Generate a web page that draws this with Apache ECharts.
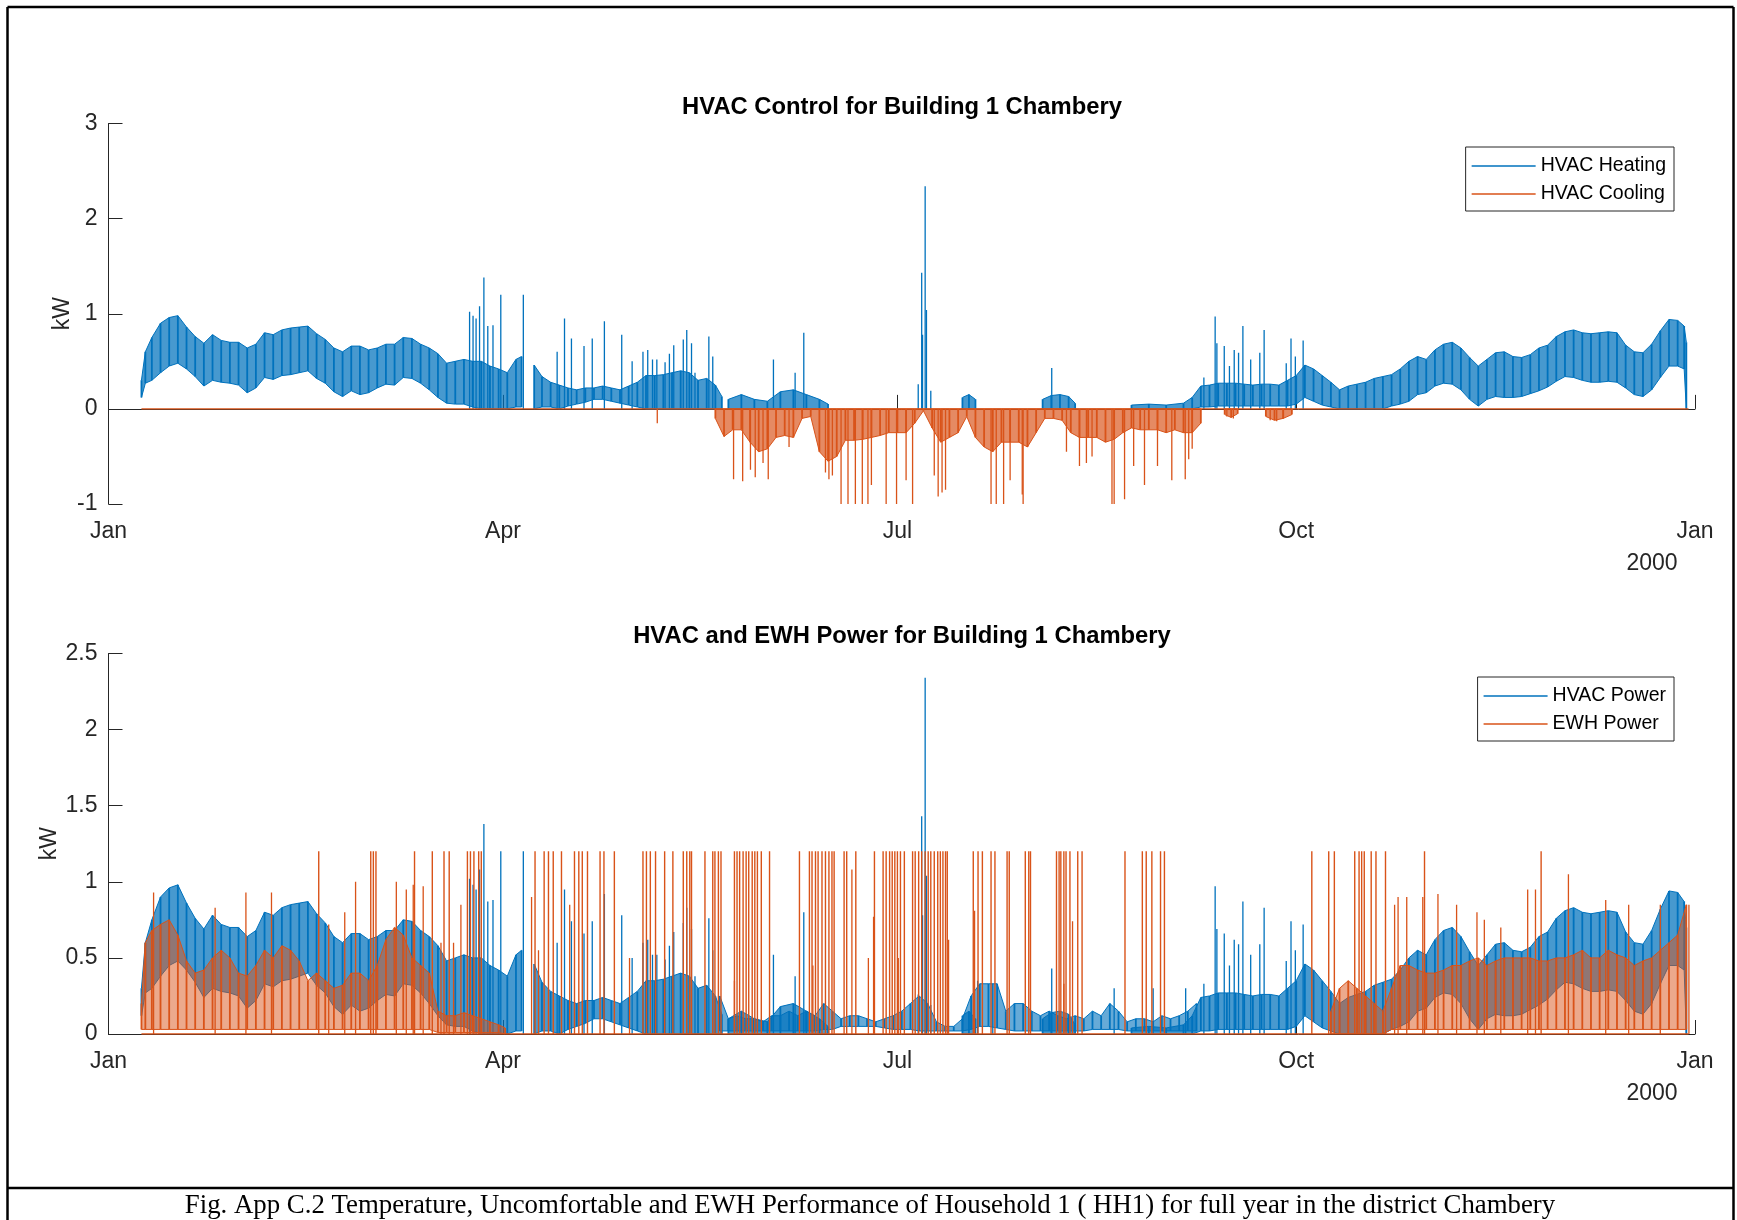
<!DOCTYPE html>
<html>
<head>
<meta charset="utf-8">
<title>HVAC Control for Building 1 Chambery</title>
<script src="https://cdn.jsdelivr.net/npm/echarts@6/dist/echarts.min.js"></script>
<style>
  html, body { margin: 0; padding: 0; background: #fff; }
  #chart { width: 1737px; height: 1220px; }
</style>
</head>
<body>
<div id="chart"></div>
<script>
// x values are days since 1 Jan 2000 (leap year, 366 days)
const monthTicks = [0, 91, 182, 274, 366];
const monthLabels = ['Jan', 'Apr', 'Jul', 'Oct', 'Jan'];

// HVAC heating, daily swing: lower / upper envelope (null = gap in the record)
const heatDays = [
  7.6, 8.5, 10, 12, 14, 16, 18, 20, 22, 24, 26, 28, 30, 32, 34, 36, 38, 40, 42, 44, 46, 48, 50,
  52, 54, 56, 58, 60, 62, 64, 66, 68, 70, 72, 74, 76, 78, 80, 82, 84, 86, 88, 90, 92, 94, 95.3, null,
  98.2, 100, 102, 104, 106, 108, 110, 112, 114, 116, 118, 120, 122, 124, 126, 128, 130, 132, 134,
  136, 138, 140, 141.5, null,
  143, 146, 149, 152, 155, 158, 161, 164, 166, null,
  197, 198.5, 200, null,
  215.5, 217.5, 219.5, 221.5, 223, null,
  236, 240, 244, 248, 250,
  252, 254, 256, 258, 260, 262, 264, 266, 268, 270, 272, 274, 276, 278, 280, 282, 284, 286, 288,
  290, 292, 294, 296, 298, 300, 302, 304, 306, 308, 310, 312, 314, 316, 318, 320, 322, 324, 326,
  328, 330, 332, 334, 336, 338, 340, 342, 344, 346, 348, 350, 352, 354, 356, 358, 360, 362,
  363.5, 364
];
const heatLo = [
  0.12, 0.27, 0.3, 0.38, 0.45, 0.48, 0.42, 0.34, 0.24, 0.3, 0.28, 0.27, 0.25, 0.17, 0.22, 0.33, 0.31, 0.35, 0.36, 0.38, 0.4, 0.32, 0.27,
  0.18, 0.13, 0.19, 0.15, 0.17, 0.22, 0.26, 0.25, 0.33, 0.32, 0.27, 0.2, 0.12, 0.06, 0.05, 0.05, 0.02, 0, 0, 0, 0, 0.02, 0.02, null,
  0, 0.02, 0.02, 0, 0.03, 0.05, 0.07, 0.1, 0.1, 0.08, 0.06, 0.04, 0.02, 0, 0, 0, 0, 0, 0,
  0, 0, 0, 0, null,
  0, 0, 0, 0, 0, 0, 0, 0, 0, null,
  0, 0, 0, null,
  0, 0, 0, 0, 0, null,
  0, 0, 0, 0, 0,
  0.02, 0.02, 0.03, 0.03, 0.03, 0.03, 0.03, 0.03, 0.03, 0.03, 0.03, 0.05, 0.12, 0.08, 0.04, 0.02, 0, 0, 0,
  0, 0, 0, 0.03, 0.05, 0.08, 0.15, 0.17, 0.24, 0.27, 0.26, 0.2, 0.1, 0.03, 0.1, 0.13, 0.12, 0.12, 0.13,
  0.16, 0.19, 0.23, 0.29, 0.34, 0.33, 0.3, 0.28, 0.28, 0.29, 0.28, 0.22, 0.15, 0.13, 0.2, 0.33, 0.45, 0.45,
  0.42, 0
];
const heatHi = [
  0.3, 0.6, 0.75, 0.9, 0.96, 0.98, 0.86, 0.76, 0.69, 0.78, 0.72, 0.7, 0.7, 0.64, 0.68, 0.8, 0.78, 0.83, 0.85, 0.86, 0.87, 0.79, 0.73,
  0.64, 0.6, 0.66, 0.66, 0.62, 0.64, 0.68, 0.68, 0.75, 0.74, 0.68, 0.64, 0.58, 0.48, 0.5, 0.52, 0.5, 0.5, 0.45, 0.42, 0.38, 0.52, 0.55, null,
  0.46, 0.34, 0.28, 0.25, 0.22, 0.2, 0.22, 0.22, 0.24, 0.22, 0.2, 0.24, 0.28, 0.35, 0.35, 0.36, 0.38, 0.4, 0.38,
  0.3, 0.32, 0.25, 0.13, null,
  0.1, 0.15, 0.1, 0.08, 0.18, 0.2, 0.15, 0.1, 0.05, null,
  0.12, 0.15, 0.1, null,
  0.1, 0.14, 0.15, 0.13, 0.06, null,
  0.04, 0.05, 0.04, 0.06, 0.12,
  0.24, 0.25, 0.27, 0.27, 0.27, 0.26, 0.25, 0.26, 0.26, 0.25, 0.3, 0.35, 0.46, 0.42, 0.35, 0.28, 0.2, 0.24, 0.26,
  0.28, 0.32, 0.34, 0.36, 0.42, 0.5, 0.55, 0.52, 0.62, 0.68, 0.7, 0.64, 0.54, 0.45, 0.52, 0.59, 0.6, 0.55, 0.54,
  0.57, 0.64, 0.67, 0.76, 0.81, 0.83, 0.8, 0.79, 0.8, 0.81, 0.8, 0.67, 0.6, 0.59, 0.68, 0.82, 0.94, 0.93,
  0.87, 0.7
];
// isolated heating peaks [day, kW]
const heatPeaks = [
  [83.3, 1.02], [84.1, 0.98], [84.8, 0.95], [85.6, 1.08], [86.6, 1.38], [87.5, 0.87], [88.7, 0.88], [90.5, 1.2], [95.7, 1.2],
  [103.5, 0.6], [105.2, 0.95], [106.8, 0.74], [109.7, 0.66], [111.6, 0.74], [114.4, 0.92], [118.4, 0.78], [120.8, 0.5],
  [123.3, 0.6], [124.4, 0.62], [125.5, 0.52], [126.5, 0.52], [128.4, 0.49], [129.4, 0.58], [130.4, 0.67], [132.6, 0.73],
  [133.4, 0.83], [134.5, 0.69], [135.3, 0.38], [138.5, 0.76], [139.4, 0.55],
  [153.4, 0.52], [158.4, 0.38], [160.4, 0.8],
  [186.8, 0.26], [187.6, 1.43], [187.8, 0.78], [188.4, 2.34], [188.7, 1.04], [189.7, 0.19],
  [217.6, 0.43],
  [252.7, 0.33], [255.3, 0.97], [255.7, 0.69], [257.4, 0.66], [258.6, 0.45], [259.7, 0.62], [260.7, 0.59], [261.7, 0.87],
  [263.5, 0.52], [265.6, 0.59], [266.6, 0.83], [271.7, 0.48], [272.8, 0.74], [273.8, 0.55], [275.6, 0.72]
];

// HVAC cooling (negative kW)
const coolSpan = [7.6, 364.5];
const coolDays = [
  140, 142, 144, 146, 148, 150, 152, 154, 156, 158, 160, 162, 164, 166, 168, 170, 172, 174, 176,
  178, 180, 182, 184, 186, 188, 190, 192, 194, 196, 198, 200, 202, 204, 206, 208, 210, 212, 214,
  216, 218, 220, 222, 224, 226, 228, 230, 232, 234, 236, 238, 240, 242, 244, 246, 248, 250, 252, null,
  257.5, 259, 260.5, null,
  267, 269, 271, 273
];
const coolLo = [
  -0.1, -0.29, -0.22, -0.22, -0.35, -0.45, -0.42, -0.3, -0.28, -0.3, -0.1, -0.08, -0.45, -0.55, -0.5, -0.33, -0.33, -0.32, -0.3,
  -0.28, -0.25, -0.25, -0.25, -0.15, -0.02, -0.2, -0.35, -0.3, -0.25, -0.08, -0.3, -0.4, -0.45, -0.35, -0.35, -0.35, -0.4, -0.25,
  -0.1, -0.1, -0.12, -0.25, -0.3, -0.3, -0.3, -0.35, -0.32, -0.25, -0.2, -0.22, -0.22, -0.22, -0.25, -0.22, -0.25, -0.25, -0.15, null,
  -0.06, -0.09, -0.05, null,
  -0.08, -0.12, -0.1, -0.06
];
const coolHi = [
  0, 0, 0, 0, 0, 0, 0, 0, 0, 0, 0, 0, 0, 0, 0, 0, 0, 0, 0,
  0, 0, 0, 0, 0, 0, 0, 0, 0, 0, 0, 0, 0, 0, 0, 0, 0, 0, 0,
  0, 0, 0, 0, 0, 0, 0, 0, 0, 0, 0, 0, 0, 0, 0, 0, 0, 0, 0, null,
  0, 0, 0, null,
  0, 0, 0, 0
];
const coolPeaks = [
  [126.6, -0.15], [144.2, -0.74], [146.3, -0.76], [148.1, -0.64], [149.2, -0.72], [151, -0.57], [152.2, -0.74], [157, -0.4],
  [165.4, -0.67], [166.2, -0.74], [167, -0.7], [169, -1], [170.6, -1], [172.3, -1], [173.9, -1], [175.2, -1], [176, -0.8],
  [179.4, -1], [181.8, -1], [184, -0.75], [185.5, -1], [190.5, -0.7], [191.4, -0.92], [192.3, -0.88], [193.1, -0.85],
  [203.6, -1], [204.8, -1], [206.5, -1], [208, -0.75], [210.8, -0.9], [211, -1], [221, -0.45], [224, -0.6], [225.6, -0.57],
  [226.9, -0.5], [231.5, -1], [232, -1], [234.4, -0.95], [236.5, -0.6], [239, -0.8], [242, -0.6], [245.3, -0.75],
  [248.4, -0.74], [249.2, -0.53], [250, -0.42], [258, -0.08], [259.5, -0.1], [268, -0.12], [269.5, -0.13], [271, -0.1]
];

// HVAC power, summer part (winter part equals heating)
const hvacSumDays = [
  141, 143, 145, 147, 149, 151, 153, 155, 157, 159, 161, 163, 165, 167, 169, 171, 173, 175, 177, 179,
  181, 183, 185, 187, 189, 191, 193, 195, 197, 199, 201, 203, 205, 207, 209, 211, 213, 215, 217, 219,
  221, 223, 225, 227, 229, 231, 233, 235, 237, 239, 241, 243, 245, 247, 249, 251
];
const hvacSumLo = [
  0.02, 0.02, 0.02, 0.02, 0.02, 0.02, 0.02, 0.02, 0.02, 0.02, 0.02, 0.02, 0.03, 0.03, 0.05, 0.05, 0.05, 0.05, 0.05, 0.04,
  0.03, 0.03, 0.03, 0.02, 0.02, 0.02, 0.02, 0.02, 0.02, 0.03, 0.05, 0.05, 0.04, 0.03, 0.02, 0.02, 0.02, 0.02, 0.02, 0.02,
  0.02, 0.02, 0.02, 0.03, 0.03, 0.03, 0.03, 0.02, 0.02, 0.02, 0.02, 0.02, 0.02, 0.02, 0.02, 0.02
];
const hvacSumHi = [
  0.25, 0.1, 0.12, 0.1, 0.1, 0.08, 0.12, 0.12, 0.15, 0.12, 0.15, 0.12, 0.2, 0.15, 0.1, 0.12, 0.12, 0.1, 0.08, 0.1,
  0.12, 0.15, 0.2, 0.25, 0.2, 0.08, 0.05, 0.05, 0.1, 0.25, 0.33, 0.33, 0.33, 0.15, 0.2, 0.2, 0.15, 0.12, 0.15, 0.12,
  0.1, 0.12, 0.1, 0.15, 0.12, 0.2, 0.15, 0.08, 0.1, 0.1, 0.08, 0.12, 0.1, 0.12, 0.15, 0.2
];
const hvacPeaks = [[200.5, 0.35], [204, 0.33], [232, 0.3], [241, 0.3], [248.5, 0.3]];

// EWH power
const ewhSpan = [7.6, 364.5];
const ewhDays = [
  7.6, 8.5, 10, 12, 14, 16, 18, 20, 22, 24, 26, 28, 30, 32, 34, 36, 38, 40, 42, 44, 46, 48, 50,
  52, 54, 56, 58, 60, 62, 64, 66, 68, 70, 72, 74, 76, 78, 80, 82, 84, 86, 88, 90, 91.5, null,
  282, 284, 286, 288, 290, 292, 294, 296, 298, 300, 302, 304, 306, 308, 310, 312, 314, 316, 318, 320, 322,
  324, 326, 328, 330, 332, 334, 336, 338, 340, 342, 344, 346, 348, 350, 352, 354, 356, 358, 360, 362, 364
];
const ewhLo = [
  0.03, 0.03, 0.03, 0.03, 0.03, 0.03, 0.03, 0.03, 0.03, 0.03, 0.03, 0.03, 0.03, 0.03, 0.03, 0.03, 0.03, 0.03, 0.03, 0.03, 0.03, 0.03, 0.03,
  0.03, 0.03, 0.03, 0.03, 0.03, 0.03, 0.03, 0.03, 0.03, 0.03, 0.03, 0.03, 0.01, 0.01, 0.01, 0.01, 0.01, 0.01, 0.01, 0.01, 0, null,
  0, 0, 0, 0, 0, 0, 0, 0.03, 0.03, 0.03, 0.03, 0.03, 0.03, 0.03, 0.03, 0.03, 0.03, 0.03, 0.03, 0.03, 0.03,
  0.03, 0.03, 0.03, 0.03, 0.03, 0.03, 0.03, 0.03, 0.03, 0.03, 0.03, 0.03, 0.03, 0.03, 0.03, 0.03, 0.03, 0.03, 0.03, 0.03, 0.03
];
const ewhHi = [
  0.2, 0.6, 0.68, 0.72, 0.75, 0.65, 0.48, 0.4, 0.42, 0.5, 0.55, 0.5, 0.4, 0.38, 0.45, 0.55, 0.5, 0.58, 0.55, 0.48, 0.35, 0.4, 0.35,
  0.3, 0.32, 0.4, 0.4, 0.35, 0.45, 0.62, 0.7, 0.65, 0.5, 0.45, 0.4, 0.15, 0.12, 0.12, 0.14, 0.12, 0.1, 0.08, 0.06, 0.04, null,
  0.15, 0.3, 0.35, 0.3, 0.25, 0.2, 0.15, 0.3, 0.45, 0.45, 0.42, 0.4, 0.4, 0.42, 0.45, 0.45, 0.48, 0.5, 0.45, 0.48, 0.5,
  0.5, 0.5, 0.5, 0.48, 0.48, 0.5, 0.5, 0.52, 0.55, 0.5, 0.5, 0.55, 0.52, 0.5, 0.45, 0.48, 0.5, 0.55, 0.6, 0.65, 0.85
];
// heater switched fully on (rated 1.2 kW)
const ewhRated = 1.2;
const ewhOnDays = [
  48.5, 60.5, 61.1, 61.7, 70.6, 74.7, 77.4, 78.6, 82.8, 83.5, 84.3, 85.4, 86.0, 98.4, 100.5, 101.5, 102.6, 104.5,
  107.5, 108.5, 109.3, 110.5, 113.4, 114.3, 116.7, 123.3, 124.1, 125, 126.2, 128.3, 130.2, 132.6, 133.4, 134.1,
  134.5, 137.6, 139.4, 139.9, 140.7, 141.3, 144.4, 145, 145.6, 146.4, 147.1, 147.7, 148.5, 149.1, 149.7, 150.6,
  152.5, 159.4, 161.7, 162.3, 163.1, 163.7, 164.6, 165.4, 166.2, 166.9, 167.4, 169.7, 170.3, 172.4, 176.7, 178.7,
  179.4, 180.2, 180.8, 181.4, 182, 182.7, 183.6, 185.5, 186.1, 186.9, 187.6, 188.4, 189.1, 189.7, 190.5, 191.3,
  191.9, 192.5, 193.1, 193.5, 199.5, 200.6, 201.6, 203.6, 204.5, 207.3, 207.8, 211.5, 212.3, 212.7, 218.7, 219.3,
  219.7, 220.4, 220.9, 221.8, 223.6, 224.6, 234.5, 238.5, 239.4, 240.7, 242.7, 243.6, 277.6, 281.5, 282.8, 287.5,
  288.5, 289.1, 289.7, 291.3, 292.4, 294.6, 303.6, 330.5
];
const ewhPeaks = [
  [10.4, 0.93], [24.6, 0.83], [31.7, 0.93], [37.6, 0.93], [50.8, 0.72], [54.5, 0.8], [57, 1.0], [66.4, 1.0], [68.7, 0.95],
  [70.3, 0.98], [72.6, 0.97], [76.7, 0.6], [79.6, 0.6], [81.3, 0.85], [97.6, 0.9], [99.2, 0.55], [106.4, 0.85], [120.2, 0.5],
  [144.4, 0.35], [162.5, 0.45], [171.5, 1.08], [175.3, 0.5], [176.5, 0.77], [182.2, 0.5], [193.8, 0.62], [199.8, 0.81],
  [220.4, 0.33], [222.4, 0.74], [296.7, 0.85], [297.5, 0.9], [299.5, 0.9], [303.2, 0.9], [306.7, 0.92], [311, 0.85],
  [315.7, 0.8], [317.4, 0.75], [321.2, 0.7], [327.4, 0.95], [329.2, 0.95], [336.8, 1.05], [345.4, 0.88], [350.7, 0.85],
  [358, 0.85], [364.6, 0.85]
];

const FONT = '"Liberation Sans", Arial, Helvetica, sans-serif';
const AX = '#262626';
const BLUE = '#0072BD';
const ORANGE = '#D95319';

// band between lower and upper envelope, drawn as vertical swings joined by filled strips
function band(name, g, days, lo, hi, fill, stroke) {
  return {
    name, type: 'custom', xAxisIndex: g, yAxisIndex: g, clip: true, silent: true,
    data: days.map((d, i) => [d, lo[i], hi[i]]),
    encode: { x: 0, y: [1, 2] },
    renderItem(params, api) {
      const i = params.dataIndex;
      const d0 = days[i];
      if (d0 == null) return null;
      const t0 = api.coord([d0, hi[i]]);
      const b0 = api.coord([d0, lo[i]]);
      const kids = [];
      const d1 = days[i + 1];
      if (d1 != null && i + 1 < days.length) {
        const t1 = api.coord([d1, hi[i + 1]]);
        const b1 = api.coord([d1, lo[i + 1]]);
        kids.push({ type: 'polygon', shape: { points: [t0, t1, b1, b0] }, style: { fill } });
        kids.push({ type: 'polyline', shape: { points: [t0, t1] }, style: { stroke, lineWidth: 1, fill: null } });
        kids.push({ type: 'polyline', shape: { points: [b0, b1] }, style: { stroke, lineWidth: 1, fill: null } });
      }
      kids.push({ type: 'line', shape: { x1: t0[0], y1: t0[1], x2: b0[0], y2: b0[1] }, style: { stroke, lineWidth: 1.8 } });
      return { type: 'group', children: kids };
    }
  };
}

// thin vertical lines from zero to the value
function peaks(name, g, pts, stroke, w) {
  return {
    name, type: 'custom', xAxisIndex: g, yAxisIndex: g, clip: true, silent: true,
    data: pts, encode: { x: 0, y: 1 },
    renderItem(params, api) {
      const p0 = api.coord([api.value(0), 0]);
      const p1 = api.coord([api.value(0), api.value(1)]);
      return { type: 'line', shape: { x1: p0[0], y1: p0[1], x2: p1[0], y2: p1[1] }, style: { stroke, lineWidth: w } };
    }
  };
}

function zeroLine(name, g, span, color) {
  return {
    name, type: 'line', xAxisIndex: g, yAxisIndex: g, silent: true, showSymbol: false, symbol: 'none',
    data: span.map(d => [d, 0]), lineStyle: { color, width: 1.3 }, itemStyle: { color }
  };
}

function xAxis(g) {
  return {
    type: 'value', gridIndex: g, min: 0, max: 366,
    axisLine: { show: true, lineStyle: { color: AX, width: 1 } },
    axisTick: { show: true, inside: true, length: 14, customValues: monthTicks, lineStyle: { color: AX } },
    axisLabel: {
      customValues: monthTicks, color: AX, fontFamily: FONT, fontSize: 23, margin: 16,
      formatter: v => monthLabels[monthTicks.indexOf(v)]
    },
    splitLine: { show: false }
  };
}

function yAxis(g, min, max, step, gap) {
  return {
    type: 'value', gridIndex: g, min, max, interval: step,
    name: 'kW', nameLocation: 'middle', nameGap: gap, nameMoveOverlap: false,
    nameTextStyle: { color: AX, fontFamily: FONT, fontSize: 23 },
    axisLine: { show: true, lineStyle: { color: AX, width: 1 } },
    axisTick: { show: true, inside: true, length: 14, lineStyle: { color: AX } },
    axisLabel: { color: AX, fontFamily: FONT, fontSize: 23, margin: 11 },
    splitLine: { show: false }
  };
}

function legend(top, names) {
  return {
    orient: 'vertical', right: 63, top, selectedMode: false,
    itemWidth: 64, itemHeight: 1.5, itemGap: 8, padding: [9, 8, 7, 6],
    backgroundColor: '#fff', borderColor: AX, borderWidth: 1, borderRadius: 0,
    textStyle: { fontFamily: FONT, fontSize: 19.5, color: '#000' },
    data: names.map(([n, c]) => ({ name: n, icon: 'rect', itemStyle: { color: c } }))
  };
}

function label(text, x, y, font, color) {
  return { type: 'text', x, y, z: 100, style: { text, font, fill: color, textAlign: 'center', textVerticalAlign: 'middle' } };
}
function rule(x1, y1, x2, y2) {
  return { type: 'line', z: 100, shape: { x1, y1, x2, y2 }, style: { stroke: '#000', lineWidth: 2.5 } };
}

const chart = echarts.init(document.getElementById('chart'), null, { renderer: 'canvas' });
chart.setOption({
  animation: false,
  backgroundColor: '#fff',
  grid: [
    { left: 108.5, right: 42, top: 123.5, height: 380.5, outerBoundsMode: 'none' },
    { left: 108.5, right: 42, top: 653.5, height: 380.5, outerBoundsMode: 'none' }
  ],
  xAxis: [xAxis(0), xAxis(1)],
  yAxis: [yAxis(0, -1, 3, 1, 34), yAxis(1, 0, 2.5, 0.5, 47)],
  legend: [
    legend(147, [['HVAC Heating', BLUE], ['HVAC Cooling', ORANGE]]),
    legend(677, [['HVAC Power', BLUE], ['EWH Power', ORANGE]])
  ],
  series: [
    band('HVAC Heating', 0, heatDays, heatLo, heatHi, 'rgba(0,114,189,0.72)', BLUE),
    peaks('HVAC Heating', 0, heatPeaks, BLUE, 1.3),
    zeroLine('HVAC Cooling', 0, coolSpan, ORANGE),
    band('HVAC Cooling', 0, coolDays, coolLo, coolHi, 'rgba(217,83,25,0.68)', ORANGE),
    peaks('HVAC Cooling', 0, coolPeaks, ORANGE, 1.3),

    band('HVAC Power', 1, heatDays, heatLo, heatHi, 'rgba(0,114,189,0.72)', BLUE),
    band('HVAC Power', 1, hvacSumDays, hvacSumLo, hvacSumHi, 'rgba(0,114,189,0.6)', BLUE),
    peaks('HVAC Power', 1, heatPeaks, BLUE, 1.3),
    peaks('HVAC Power', 1, hvacPeaks, BLUE, 1.3),
    zeroLine('EWH Power', 1, ewhSpan, ORANGE),
    band('EWH Power', 1, ewhDays, ewhLo, ewhHi, 'rgba(217,83,25,0.5)', ORANGE),
    peaks('EWH Power', 1, ewhPeaks, ORANGE, 1.3),
    peaks('EWH Power', 1, ewhOnDays.map(d => [d, ewhRated]), ORANGE, 1.4)
  ],
  graphic: [
    label('HVAC Control for Building 1 Chambery', 902, 107.5, 'bold 23.8px ' + FONT, '#000'),
    label('HVAC and EWH Power for Building 1 Chambery', 902, 636.5, 'bold 23.8px ' + FONT, '#000'),
    label('2000', 1652, 564, '23px ' + FONT, AX),
    label('2000', 1652, 1094, '23px ' + FONT, AX),
    label('Fig. App C.2 Temperature, Uncomfortable and EWH Performance of Household 1 ( HH1) for full year in the district Chambery',
      870, 1206, '26.8px "Liberation Serif", "Times New Roman", serif', '#000'),
    rule(7.5, 7, 1733.5, 7),
    rule(7.5, 7, 7.5, 1220),
    rule(1733.5, 7, 1733.5, 1220),
    rule(7.5, 1188, 1733.5, 1188)
  ]
});
</script>
</body>
</html>
